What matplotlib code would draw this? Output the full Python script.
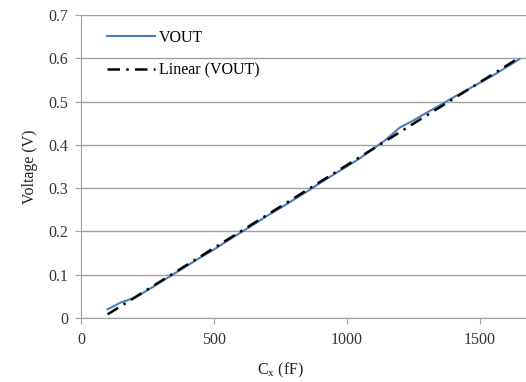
import numpy as np
import matplotlib
matplotlib.use("Agg")
import matplotlib.pyplot as plt

cx = [100, 150, 200, 250, 300, 350, 400, 450, 500, 550, 600, 650, 700, 750, 800,
      850, 900, 950, 1000, 1050, 1100, 1150, 1200, 1250, 1300, 1350, 1400, 1450,
      1500, 1550, 1600, 1650]
vout = [0.020, 0.036, 0.046, 0.064, 0.083, 0.102, 0.121, 0.140, 0.158, 0.178,
        0.197, 0.216, 0.236, 0.254, 0.273, 0.292, 0.312, 0.331, 0.350, 0.369,
        0.391, 0.413, 0.440, 0.456, 0.474, 0.491, 0.509, 0.526, 0.543, 0.560,
        0.579, 0.598]
xticks = [0, 500, 1000, 1500]
yticks = [0, 0.1, 0.2, 0.3, 0.4, 0.5, 0.6, 0.7]
ytick_labels = ["0", "0.1", "0.2", "0.3", "0.4", "0.5", "0.6", "0.7"]

plt.rcParams['font.family'] = ['Liberation Serif', 'DejaVu Serif']

fig = plt.figure(figsize=(5.26, 3.82), dpi=100)
ax = fig.add_axes([81/526, 1-318/382, 1-81/526, (318-15)/382])

x = np.array(cx, dtype=float)
y = np.array(vout)
coef = np.polyfit(x, y, 1)
fit = np.polyval(coef, x)

ax.plot(x, y, color='#4a7ebb', lw=1.5, label='VOUT', zorder=3)
ax.plot(x, fit, color='black', lw=1.8, ls=(0, (5, 2.5, 1, 2.5)), label='Linear (VOUT)', zorder=4)

ax.set_xlim(0, 1675)
ax.set_ylim(0, 0.7)
ax.set_xticks(xticks)
ax.set_yticks(yticks)
ax.set_yticklabels(ytick_labels)
ax.grid(axis='y', color='#a0a0a0', lw=1)
ax.set_axisbelow(True)
for s in ['top', 'right']:
    ax.spines[s].set_visible(False)
for s in ['left', 'bottom']:
    ax.spines[s].set_color('#a0a0a0')
ax.tick_params(axis='both', colors='#a0a0a0', labelcolor='#333333', labelsize=11.5, length=4)
ax.tick_params(axis='y', pad=5)
ax.tick_params(axis='x', pad=6)

ax.set_ylabel('Voltage (V)', fontsize=11.5, color='#222222', labelpad=8)
ax.set_xlabel('C$_\\mathregular{x}$ (fF)', fontsize=11.5, color='#222222', labelpad=8)
ax.xaxis.set_label_coords((281 - 81) / (526 - 81), -0.14)

leg = ax.legend(loc='upper left', bbox_to_anchor=(0.027, 0.998), frameon=False,
                fontsize=11.5, handlelength=2.95, handletextpad=0.25, labelspacing=1.05)

fig.savefig('out.png', dpi=100)
